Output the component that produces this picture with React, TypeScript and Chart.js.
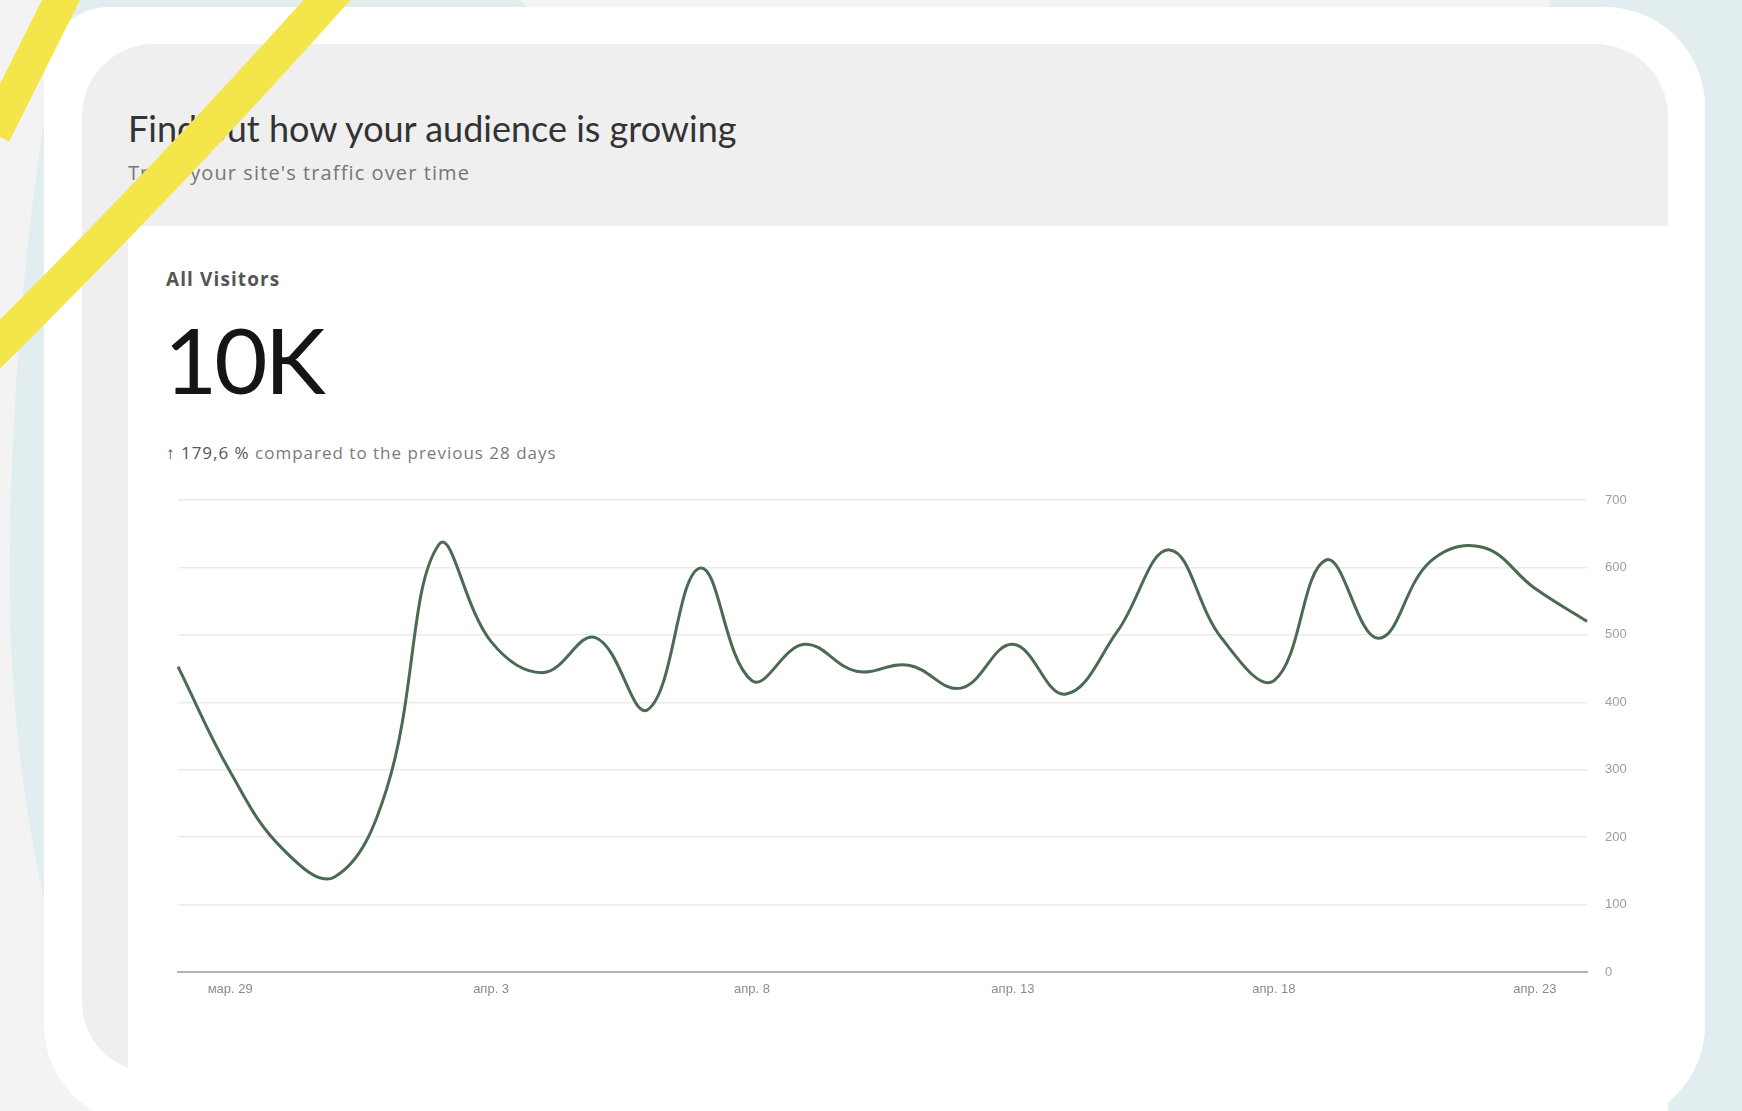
import React, { useEffect, useRef } from "react";
import { Chart, registerables } from "chart.js";

Chart.register(...registerables);

// ---- data ----
const dayLabels: string[] = [
  "мар. 28", "мар. 29", "мар. 30", "мар. 31", "апр. 1", "апр. 2", "апр. 3",
  "апр. 4", "апр. 5", "апр. 6", "апр. 7", "апр. 8", "апр. 9", "апр. 10",
  "апр. 11", "апр. 12", "апр. 13", "апр. 14", "апр. 15", "апр. 16", "апр. 17",
  "апр. 18", "апр. 19", "апр. 20", "апр. 21", "апр. 22", "апр. 23", "апр. 24",
];
const visitors: number[] = [
  453, 297, 183, 141, 272, 634, 490, 444, 496, 389, 599, 432, 486, 446,
  455, 421, 486, 412, 505, 626, 495, 432, 611, 495, 609, 630, 569, 520,
];
const shownTickLabels: string[] = ["мар. 29", "апр. 3", "апр. 8", "апр. 13", "апр. 18", "апр. 23"];
const yMin = 0;
const yMax = 700;
const yStep = 100;

const titleText = "Find out how your audience is growing";
const subtitleText = "Track your site's traffic over time";
const metricLabel = "All Visitors";
const metricValue = "10K";
const changeValue = "179,6 %";
const changeText = " compared to the previous 28 days";

function TrafficChart() {
  const ref = useRef<HTMLCanvasElement | null>(null);
  useEffect(() => {
    if (!ref.current) return;
    const chart = new Chart(ref.current, {
      type: "line",
      data: {
        labels: dayLabels,
        datasets: [
          {
            data: visitors,
            borderColor: "#4b6a52",
            borderWidth: 3,
            pointRadius: 0,
            tension: 0.4,
            fill: false,
          },
        ],
      },
      options: {
        animation: false,
        responsive: false,
        maintainAspectRatio: false,
        layout: { padding: { left: 18, top: 30, right: 0, bottom: 0 } },
        plugins: { legend: { display: false }, tooltip: { enabled: false } },
        scales: {
          x: {
            grid: { display: false, drawTicks: false },
            border: { display: true, color: "#b3b3b3", width: 2 },
            ticks: {
              autoSkip: false,
              maxRotation: 0,
              padding: 10,
              color: "#8c8c8c",
              font: { size: 13, family: "'Liberation Sans', Arial, sans-serif" },
              callback: (_v: any, i: number) =>
                shownTickLabels.includes(dayLabels[i]) ? dayLabels[i] : "",
            },
            afterFit: (s: any) => {
              s.height = 38;
            },
          },
          y: {
            position: "right",
            min: yMin,
            max: yMax,
            ticks: {
              stepSize: yStep,
              padding: 18,
              color: "#9e9e9e",
              font: { size: 13, family: "'Liberation Sans', Arial, sans-serif" },
            },
            grid: {
              color: (ctx: any) => (ctx.tick && ctx.tick.value === 0 ? "rgba(0,0,0,0)" : "#ebebeb"),
              lineWidth: 1.5,
              drawTicks: false,
            },
            border: { display: false },
            afterFit: (s: any) => {
              s.width = 93;
            },
          },
        },
      },
    });
    return () => chart.destroy();
  }, []);
  return (
    <canvas
      ref={ref}
      width={1520}
      height={540}
      style={{ position: "absolute", left: 160, top: 470, width: 1520, height: 540 }}
    />
  );
}

export default function App() {
  const abs = (o: React.CSSProperties): React.CSSProperties => ({ position: "absolute", ...o });
  return (
    <div
      style={{
        position: "fixed",
        left: 0,
        top: 0,
        width: 1742,
        height: 1111,
        overflow: "hidden",
        background: "#f3f3f3",
        fontFamily: "Lato, 'Noto Sans', sans-serif",
      }}
    >
      <svg width={1742} height={1111} style={abs({ left: 0, top: 0 })}>
        <path d="M69,0 L520,0 L560,40 L560,1111 L110,1111 C55,980 12,800 10,600 C8,400 30,150 69,0 Z" fill="#e2edef" />
        <rect x={1550} y={0} width={192} height={1111} fill="#e2edef" />
      </svg>
      <div style={abs({ left: 44, top: 7, width: 1661, height: 1118, background: "#ffffff", borderRadius: "66px 100px 100px 100px" })} />
      <div style={abs({ left: 82, top: 44, width: 1586, height: 1029, background: "#efefef", borderRadius: 72 })} />
      <div style={abs({ left: 128, top: 226, width: 1540, height: 900, background: "#ffffff" })} />

      <div style={abs({ left: 128, top: 110, fontSize: 36, lineHeight: "36px", color: "#333333", whiteSpace: "nowrap" })}>
        {titleText}
      </div>
      <div style={abs({ left: 128, top: 163, fontFamily: "'Open Sans', sans-serif", fontSize: 20, lineHeight: "20px", letterSpacing: 1.1, color: "#767676", whiteSpace: "nowrap" })}>
        {subtitleText}
      </div>
      <div style={abs({ left: 166, top: 270, fontFamily: "'Open Sans', sans-serif", fontSize: 19, lineHeight: "19px", fontWeight: 700, letterSpacing: 1.1, color: "#555555", whiteSpace: "nowrap" })}>
        {metricLabel}
      </div>
      <div style={abs({ left: 164, top: 313, fontSize: 92, lineHeight: "92px", color: "#151515", letterSpacing: -3, whiteSpace: "nowrap" })}>
        {metricValue}
      </div>
      <div style={abs({ left: 166, top: 444, fontFamily: "'Open Sans', sans-serif", fontSize: 17, lineHeight: "17px", letterSpacing: 1.0, color: "#7a7a7a", whiteSpace: "nowrap" })}>
        <span style={{ color: "#2f5a36", fontWeight: 700 }}>↑ </span>
        <span style={{ color: "#555555" }}>{changeValue}</span>
        {changeText}
      </div>

      <TrafficChart />

      <svg width={1742} height={1111} style={abs({ left: 0, top: 0, pointerEvents: "none" })}>
        <line x1={67} y1={-12} x2={-6} y2={134} stroke="#f4e64a" strokeWidth={34} />
        <path d="M343,-18 Q176,170 -15,359" stroke="#f4e64a" strokeWidth={35} fill="none" />
      </svg>
    </div>
  );
}
